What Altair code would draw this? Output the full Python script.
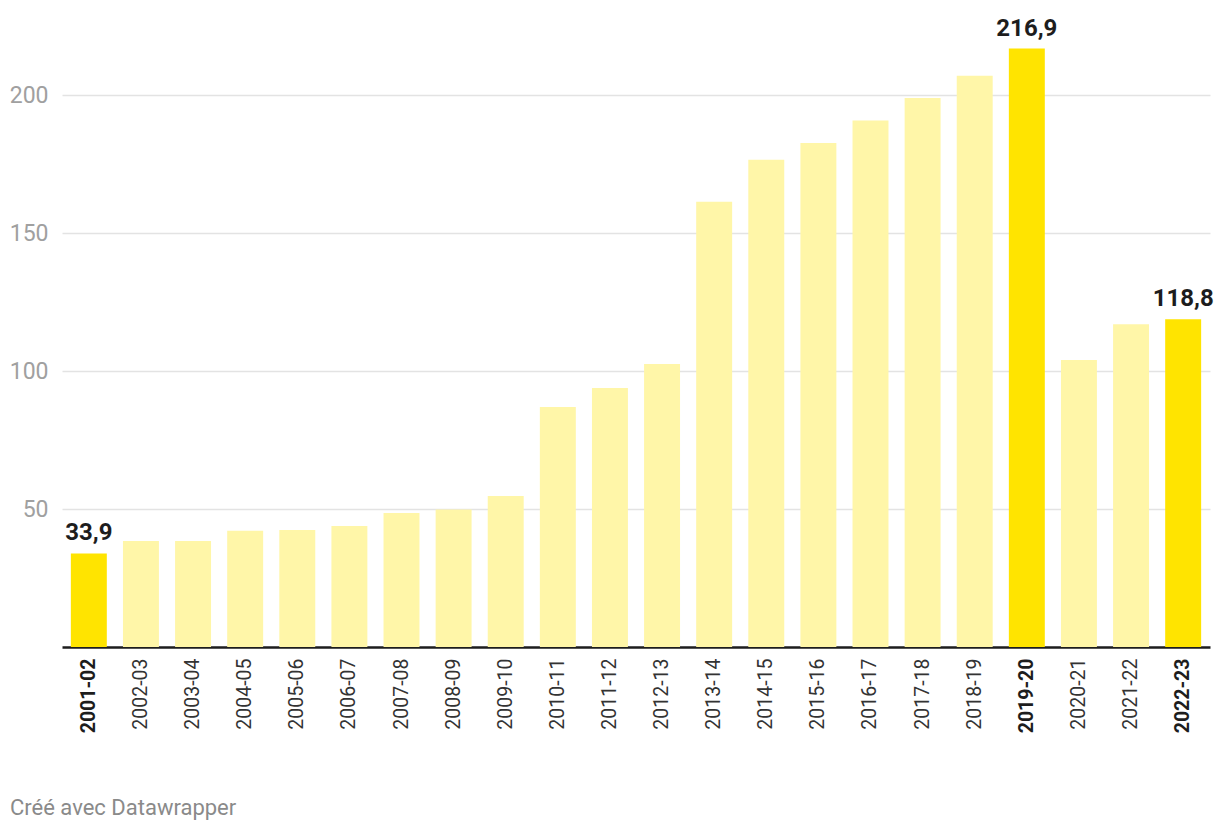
import altair as alt
import pandas as pd

seasons = ["2001-02", "2002-03", "2003-04", "2004-05", "2005-06", "2006-07",
           "2007-08", "2008-09", "2009-10", "2010-11", "2011-12", "2012-13",
           "2013-14", "2014-15", "2015-16", "2016-17", "2017-18", "2018-19",
           "2019-20", "2020-21", "2021-22", "2022-23"]
values = [33.9, 38.4, 38.4, 42.1, 42.4, 43.9, 48.6, 49.8, 54.7, 87.0, 93.9, 102.6,
          161.4, 176.6, 182.7, 190.8, 199.0, 207.0, 216.9, 104.0, 117.0, 118.8]
highlighted = ["2001-02", "2019-20", "2022-23"]
y_ticks = [50, 100, 150, 200]
footer = "Créé avec Datawrapper"

df = pd.DataFrame({"season": seasons, "value": values})
df["hl"] = ["yes" if s in highlighted else "no" for s in seasons]
df["label"] = [f"{v:.1f}".replace(".", ",") for v in values]

FONT = "Roboto"
hl_expr = "indexof(" + str(highlighted) + ", datum.value) >= 0"

x = alt.X(
    "season:N", sort=seasons,
    scale=alt.Scale(paddingInner=0.31, paddingOuter=0.17),
    axis=alt.Axis(
        title=None, labelAngle=270, ticks=False, labelPadding=11,
        labelFont=FONT, labelFontSize=19.5,
        labelFontWeight={"expr": hl_expr + " ? 'bold' : 'normal'"},
        labelColor={"expr": hl_expr + " ? '#1d1d1d' : '#333333'"},
        domainColor="#1d1d1d", domainWidth=2.5, grid=False,
    ),
)
y = alt.Y(
    "value:Q",
    scale=alt.Scale(domain=[0, 220], nice=False),
    axis=alt.Axis(
        title=None, values=y_ticks, ticks=False, domain=False,
        labelFont=FONT, labelFontSize=23, labelColor="#a0a0a0", labelPadding=14,
        gridColor="#e3e3e3", gridWidth=1.5,
    ),
)

bars = alt.Chart(df).mark_bar().encode(
    x=x, y=y,
    color=alt.Color("hl:N", scale=alt.Scale(domain=["yes", "no"],
                                            range=["#ffe400", "#fff6a8"]), legend=None),
)

labels = alt.Chart(df).transform_filter("datum.hl == 'yes'").mark_text(
    baseline="bottom", dy=-8, font=FONT, fontSize=24, fontWeight="bold", color="#1d1d1d"
).encode(x=x, y=y, text="label:N")

foot = alt.Chart(pd.DataFrame({"t": [footer]})).mark_text(
    align="left", baseline="middle", font=FONT, fontSize=22, color="#8a8a8a"
).encode(text="t:N", x=alt.value(-52), y=alt.value(768))

chart = alt.layer(bars, labels, foot).properties(
    width=1148, height=607,
    autosize=alt.AutoSizeParams(type="none"),
    padding={"left": 62, "top": 40, "right": 10, "bottom": 185},
    background="white",
).configure_view(stroke=None)

chart.save("out.html", embed_options={"renderer": "svg", "actions": False})
